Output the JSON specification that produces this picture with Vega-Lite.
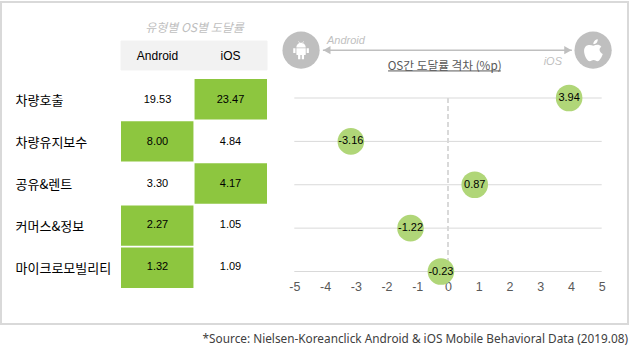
{"$schema":"https://vega.github.io/schema/vega-lite/v6.json","width":627,"height":322,"autosize":{"type":"none"},"padding":{"left":1,"top":2,"right":2,"bottom":30},"background":"white","view":{"stroke":"#d9d9d9","strokeWidth":2},"title":{"text":"*Source: Nielsen-Koreanclick Android & iOS Mobile Behavioral Data (2019.08)","orient":"bottom","anchor":"end","frame":"group","offset":10,"font":"Noto Sans","fontSize":11.8,"fontWeight":"normal","color":"#404040"},"datasets":{"table":[{"category":"차량호출","os":"Android","value":"19.53","leads":false},{"category":"차량호출","os":"iOS","value":"23.47","leads":true},{"category":"차량유지보수","os":"Android","value":"8.00","leads":true},{"category":"차량유지보수","os":"iOS","value":"4.84","leads":false},{"category":"공유&렌트","os":"Android","value":"3.30","leads":false},{"category":"공유&렌트","os":"iOS","value":"4.17","leads":true},{"category":"커머스&정보","os":"Android","value":"2.27","leads":true},{"category":"커머스&정보","os":"iOS","value":"1.05","leads":false},{"category":"마이크로모빌리티","os":"Android","value":"1.32","leads":true},{"category":"마이크로모빌리티","os":"iOS","value":"1.09","leads":false}],"gap":[{"category":"차량호출","gap":3.94,"label":"3.94"},{"category":"차량유지보수","gap":-3.16,"label":"-3.16"},{"category":"공유&렌트","gap":0.87,"label":"0.87"},{"category":"커머스&정보","gap":-1.22,"label":"-1.22"},{"category":"마이크로모빌리티","gap":-0.23,"label":"-0.23"}],"header":[{"os":"Android","row":0.038,"top":-0.31,"bottom":0.362},{"os":"iOS","row":0.038,"top":-0.31,"bottom":0.362}]},"layer":[{"data":{"name":"table"},"transform":[{"filter":"datum.leads"}],"mark":{"type":"rect","fill":"#8dc63f"},"encoding":{"x":{"field":"os","type":"nominal","title":"유형별 OS별 도달률","scale":{"domain":["Android","iOS"],"range":[120,266],"paddingInner":0.015,"paddingOuter":0},"axis":{"orient":"top","offset":-53,"domain":false,"ticks":false,"labels":false,"titleFont":"Noto Sans CJK KR","titleFontSize":12,"titleFontWeight":"normal","titleColor":"#bfbfbf","titleFontStyle":"italic","titlePadding":21}},"y":{"field":"category","type":"nominal","title":null,"sort":null,"scale":{"domain":["차량호출","차량유지보수","공유&렌트","커머스&정보","마이크로모빌리티"],"range":[77,286],"paddingInner":0.04,"paddingOuter":0},"axis":{"orient":"left","offset":-14,"domain":false,"ticks":false,"labelAlign":"left","labelPadding":0,"labelOffset":1.5,"labelFont":"Noto Sans CJK KR","labelFontSize":13,"labelColor":"#000000"}}}},{"data":{"name":"header"},"mark":{"type":"rect","fill":"#f2f2f2","stroke":"#f2f2f2","strokeWidth":1},"encoding":{"x":{"field":"os","type":"nominal","scale":{"domain":["Android","iOS"],"range":[120,266],"paddingInner":0,"paddingOuter":0},"axis":null},"y":{"field":"top","type":"quantitative","scale":{"domain":[1,5],"range":[95.5,268],"nice":false,"zero":false},"axis":null},"y2":{"field":"bottom"}}},{"data":{"name":"header"},"mark":{"type":"text","font":"Liberation Sans","fontSize":12,"color":"#000000"},"encoding":{"x":{"field":"os","type":"nominal","scale":{"domain":["Android","iOS"],"range":[120,266],"paddingInner":0.015,"paddingOuter":0},"axis":null},"y":{"field":"row","type":"quantitative","scale":{"domain":[1,5],"range":[95.5,268],"nice":false,"zero":false},"axis":null},"text":{"field":"os","type":"nominal"}}},{"data":{"name":"table"},"mark":{"type":"text","font":"Liberation Sans","fontSize":11,"color":"#000000"},"encoding":{"x":{"field":"os","type":"nominal","scale":{"domain":["Android","iOS"],"range":[120,266],"paddingInner":0.015,"paddingOuter":0},"axis":null},"y":{"field":"category","type":"nominal","sort":null,"scale":{"domain":["차량호출","차량유지보수","공유&렌트","커머스&정보","마이크로모빌리티"],"range":[77,286],"paddingInner":0.04,"paddingOuter":0},"axis":null},"text":{"field":"value","type":"nominal"}}},{"data":{"name":"gap"},"mark":{"type":"rule","color":"#d9d9d9","strokeWidth":1},"encoding":{"x":{"datum":-5,"type":"quantitative","title":null,"scale":{"domain":[-5,5],"range":[293.3,600.7],"nice":false,"zero":false},"axis":{"orient":"bottom","offset":-44,"values":[-5,-4,-3,-2,-1,0,1,2,3,4,5],"labelExpr":"replace(datum.label,'−','-')","format":"d","grid":false,"domain":false,"ticks":false,"labelPadding":0,"labelFlush":false,"labelBound":false,"labelOverlap":false,"labelFont":"Liberation Sans","labelFontSize":12.5,"labelColor":"#595959"}},"x2":{"datum":5},"y":{"field":"category","type":"nominal","sort":null,"scale":{"type":"point","domain":["차량호출","차량유지보수","공유&렌트","커머스&정보","마이크로모빌리티"],"range":[96,269.5],"padding":0},"axis":null}}},{"data":{"values":[{"from":"차량호출","to":"마이크로모빌리티","zero":0}]},"mark":{"type":"rule","color":"#d9d9d9","strokeWidth":2,"strokeDash":[5,3]},"encoding":{"x":{"field":"zero","type":"quantitative","scale":{"domain":[-5,5],"range":[293.3,600.7],"nice":false,"zero":false},"axis":null},"y":{"field":"from","type":"nominal","scale":{"type":"point","domain":["차량호출","차량유지보수","공유&렌트","커머스&정보","마이크로모빌리티"],"range":[96,269.5],"padding":0},"axis":null},"y2":{"field":"to"}}},{"data":{"name":"gap"},"mark":{"type":"circle","size":707,"color":"#b0d678","opacity":1},"encoding":{"x":{"field":"gap","type":"quantitative","scale":{"domain":[-5,5],"range":[293.3,600.7],"nice":false,"zero":false},"axis":null},"y":{"field":"category","type":"nominal","sort":null,"scale":{"type":"point","domain":["차량호출","차량유지보수","공유&렌트","커머스&정보","마이크로모빌리티"],"range":[96,269.5],"padding":0},"axis":null}}},{"data":{"name":"gap"},"mark":{"type":"text","font":"Liberation Sans","fontSize":11,"color":"#000000"},"encoding":{"x":{"field":"gap","type":"quantitative","scale":{"domain":[-5,5],"range":[293.3,600.7],"nice":false,"zero":false},"axis":null},"y":{"field":"category","type":"nominal","sort":null,"scale":{"type":"point","domain":["차량호출","차량유지보수","공유&렌트","커머스&정보","마이크로모빌리티"],"range":[96,269.5],"padding":0},"axis":null},"text":{"field":"label","type":"nominal"}}},{"data":{"values":[{"x":-4.07,"x2":4.03,"row":-0.098}]},"mark":{"type":"rule","color":"#bfbfbf","strokeWidth":1.5},"encoding":{"x":{"field":"x","type":"quantitative","scale":{"domain":[-5,5],"range":[293.3,600.7],"nice":false,"zero":false},"axis":null},"x2":{"field":"x2"},"y":{"field":"row","type":"quantitative","scale":{"domain":[1,5],"range":[95.5,268],"nice":false,"zero":false},"axis":null}}},{"data":{"values":[{"x":-3.94,"row":-0.098,"s":"triangle-left"},{"x":3.9,"row":-0.098,"s":"triangle-right"}]},"mark":{"type":"point","filled":true,"opacity":1,"size":70,"color":"#bfbfbf"},"encoding":{"x":{"field":"x","type":"quantitative","scale":{"domain":[-5,5],"range":[293.3,600.7],"nice":false,"zero":false},"axis":null},"y":{"field":"row","type":"quantitative","scale":{"domain":[1,5],"range":[95.5,268],"nice":false,"zero":false},"axis":null},"shape":{"field":"s","type":"nominal","scale":null}}},{"data":{"values":[{"x":-4.78,"row":-0.098},{"x":4.72,"row":-0.098}]},"mark":{"type":"circle","size":1385,"color":"#bfbfbf","opacity":1},"encoding":{"x":{"field":"x","type":"quantitative","scale":{"domain":[-5,5],"range":[293.3,600.7],"nice":false,"zero":false},"axis":null},"y":{"field":"row","type":"quantitative","scale":{"domain":[1,5],"range":[95.5,268],"nice":false,"zero":false},"axis":null}}},{"data":{"values":[{"x":-4.78,"row":-0.098}]},"mark":{"type":"point","filled":true,"opacity":1,"color":"white","size":324,"shape":"M-0.52,-0.3C-0.52,-0.62 -0.25,-0.82 0,-0.82C0.25,-0.82 0.52,-0.62 0.52,-0.3ZM-0.52,-0.22H0.52V0.45Q0.52,0.55 0.42,0.55H0.33V1H0.08V0.55H-0.08V1H-0.33V0.55H-0.42Q-0.52,0.55 -0.52,0.45ZM-0.87,-0.22H-0.62V0.32H-0.87ZM0.62,-0.22H0.87V0.32H0.62ZM-0.32,-0.98L-0.26,-1L-0.12,-0.78L-0.18,-0.74ZM0.32,-0.98L0.26,-1L0.12,-0.78L0.18,-0.74Z"},"encoding":{"x":{"field":"x","type":"quantitative","scale":{"domain":[-5,5],"range":[293.3,600.7],"nice":false,"zero":false},"axis":null},"y":{"field":"row","type":"quantitative","scale":{"domain":[1,5],"range":[95.5,268],"nice":false,"zero":false},"axis":null}}},{"data":{"values":[{"x":4.72,"row":-0.098}]},"mark":{"type":"point","filled":true,"opacity":1,"color":"white","size":484,"shape":"M0.02,-0.55C0.02,-0.8 0.22,-1 0.42,-1C0.45,-0.75 0.25,-0.52 0.02,-0.55ZM0.75,-0.3C0.55,-0.55 0.3,-0.5 0.02,-0.4C-0.25,-0.52 -0.75,-0.55 -0.82,0C-0.85,0.4 -0.55,1 -0.3,1C-0.15,1 -0.1,0.9 0.05,0.9C0.2,0.9 0.25,1 0.4,1C0.6,1 0.8,0.6 0.88,0.35C0.55,0.2 0.5,-0.15 0.75,-0.3Z"},"encoding":{"x":{"field":"x","type":"quantitative","scale":{"domain":[-5,5],"range":[293.3,600.7],"nice":false,"zero":false},"axis":null},"y":{"field":"row","type":"quantitative","scale":{"domain":[1,5],"range":[95.5,268],"nice":false,"zero":false},"axis":null}}},{"data":{"values":[{"x":-3.32,"row":-0.32,"t":"Android"},{"x":3.41,"row":0.167,"t":"iOS"}]},"mark":{"type":"text","font":"Liberation Sans","fontSize":11,"fontStyle":"italic","color":"#bfbfbf"},"encoding":{"x":{"field":"x","type":"quantitative","scale":{"domain":[-5,5],"range":[293.3,600.7],"nice":false,"zero":false},"axis":null},"y":{"field":"row","type":"quantitative","scale":{"domain":[1,5],"range":[95.5,268],"nice":false,"zero":false},"axis":null},"text":{"field":"t","type":"nominal"}}},{"data":{"values":[{"x":-0.11,"row":0.26,"t":"OS간 도달률 격차 (%p)"}]},"mark":{"type":"text","font":"Noto Sans CJK KR","fontSize":11.7,"color":"#595959"},"encoding":{"x":{"field":"x","type":"quantitative","scale":{"domain":[-5,5],"range":[293.3,600.7],"nice":false,"zero":false},"axis":null},"y":{"field":"row","type":"quantitative","scale":{"domain":[1,5],"range":[95.5,268],"nice":false,"zero":false},"axis":null},"text":{"field":"t","type":"nominal"}}},{"data":{"values":[{"x":-1.95,"x2":1.72,"row":0.384}]},"mark":{"type":"rule","color":"#595959","strokeWidth":1},"encoding":{"x":{"field":"x","type":"quantitative","scale":{"domain":[-5,5],"range":[293.3,600.7],"nice":false,"zero":false},"axis":null},"x2":{"field":"x2"},"y":{"field":"row","type":"quantitative","scale":{"domain":[1,5],"range":[95.5,268],"nice":false,"zero":false},"axis":null}}}],"resolve":{"scale":{"x":"independent","y":"independent"},"axis":{"x":"independent","y":"independent"}}}
